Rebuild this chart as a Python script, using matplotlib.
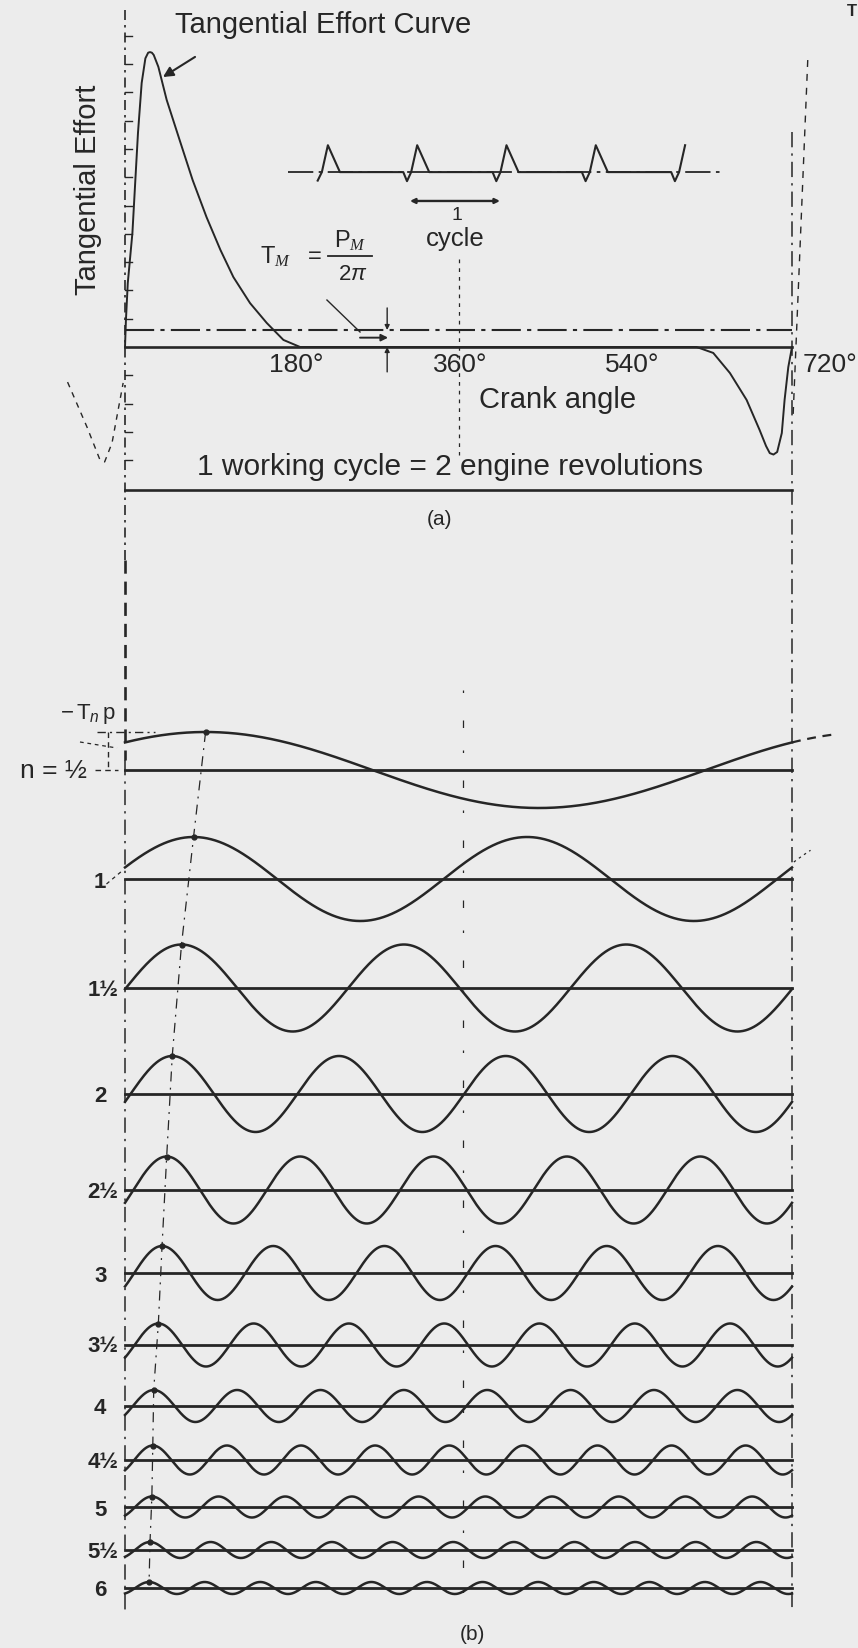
import numpy as np
import matplotlib.pyplot as plt

plt.rcParams['font.family'] = ['Liberation Sans', 'DejaVu Sans']
plt.rcParams['mathtext.fontset'] = 'custom'
plt.rcParams['mathtext.rm'] = 'Liberation Sans'
plt.rcParams['mathtext.it'] = 'Liberation Sans:italic'
plt.rcParams['mathtext.cal'] = 'Liberation Serif:italic'

# --- data -----------------------------------------------------------------
# tangential effort over one working cycle (crank angle in deg, relative effort)
crank = [0, 1, 3, 8, 11, 14, 18, 22, 25, 27, 29, 31, 36, 45, 59, 73, 88, 103, 117,
         135, 153, 171, 189, 617, 635, 653, 671, 685, 692, 696, 700, 704, 709, 712, 716, 720]
effort = [0, 9.5, 22.6, 40.3, 58, 75.6, 93.3, 102, 104, 104.2, 104, 103.2, 99, 87.3, 73.1,
          59, 45.9, 34.3, 24.7, 15.5, 8.5, 2.5, 0, 0, -2.1, -9.2, -18.7, -29.3, -35,
          -37.5, -38, -37.1, -30.4, -18.7, -7.1, 0]

# end of the previous cycle (drawn dashed, left of 0 deg)
crank_prev = [-62, -41, -27, -22, -14, -8, -2]
effort_prev = [-12.4, -28.3, -39.9, -40.6, -33.9, -23.3, -12.7]

mean_effort = 6.0
effort_ticks = np.arange(-40, 111, 10)

# small sketch of successive cycles: one pulse (offset from its peak, height)
pulse_dx = [-15, -11, -6.5, 0, 13]
pulse_dy = [0, -3.2, 0, 9.5, 0]
pulse_peaks = [219, 315.4, 411.8, 508.2, 604.6]

# harmonic components (b)
orders = [0.5, 1, 1.5, 2, 2.5, 3, 3.5, 4, 4.5, 5, 5.5, 6]
labels = ['n = ½', '1', '1½', '2', '2½', '3', '3½', '4', '4½', '5', '5½', '6']
amplitude = [38, 42, 43.5, 38, 33.5, 27, 21.5, 16, 14.5, 10.5, 8, 6]
phase = [87, 74, 61, 51, 45, 40, 36, 31, 30, 29, 27, 26]   # crank angle of first peak

# --- layout ---------------------------------------------------------------
W, H = 858, 1648
x0_px, px_per_deg = 125, (792 - 125) / 720.0
xlim = (-x0_px / px_per_deg, (W - x0_px) / px_per_deg)
row_base = [770, 879, 988, 1094, 1190, 1273, 1345, 1406, 1460, 1507, 1550, 1588]

ink = '#262626'
bg = '#ececec'
dashdot = (0, (14, 3, 2, 3))

fig = plt.figure(figsize=(W / 100, H / 100), dpi=100, facecolor=bg)

# full-figure axes for part (b) and the guide lines (y in layout units, downwards)
ax = fig.add_axes([0, 0, 1, 1])
ax.set_xlim(*xlim)
ax.set_ylim(H, 0)
ax.axis('off')

# top axes for part (a), effort units
top_h = 560
ax_a = fig.add_axes([0, 1 - top_h / H, 1, top_h / H])
base_px, px_per_unit = 347, 2.83
ax_a.set_xlim(*xlim)
ax_a.set_ylim((base_px - top_h) / px_per_unit, base_px / px_per_unit)
ax_a.axis('off')
ax_a.patch.set_alpha(0)

# ---------------- part (a) ----------------
ax_a.plot(crank, effort, color=ink, lw=1.4)
ax_a.plot(crank_prev, effort_prev, color=ink, lw=1.0, ls=(0, (4, 4)))
ax_a.plot([0, 720], [0, 0], color=ink, lw=1.9)
ax_a.plot([0, 720], [mean_effort, mean_effort], color=ink, lw=1.5, ls=dashdot)
ax_a.plot([0, 720], [-50.5, -50.5], color=ink, lw=1.9)

# ticks on the effort axis
for t in effort_ticks:
    if t != 0:
        ax_a.plot([0, 8], [t, t], color=ink, lw=1.0)

# sketch of successive cycles
mini_y0 = 61.8
ax_a.plot([176, 644], [mini_y0, mini_y0], color=ink, lw=1.3, ls=dashdot)
sx, sy = [], []
for i, pk in enumerate(pulse_peaks):
    last = i == len(pulse_peaks) - 1
    n_pts = 4 if last else 5
    first = 1 if i == 0 else 0
    sx += [pk + d for d in pulse_dx[first:n_pts]]
    sy += [mini_y0 + d for d in pulse_dy[first:n_pts]]
sy[0] = mini_y0 - 3.0
ax_a.plot(sx, sy, color=ink, lw=1.5)
ax_a.annotate('', xy=(307.6, 51.6), xytext=(404.8, 51.6),
              arrowprops=dict(arrowstyle='<|-|>', color=ink, lw=1.7,
                              mutation_scale=7, shrinkA=0, shrinkB=0))
ax_a.text(358, 46.4, '1', ha='center', va='center', fontsize=14, color=ink)
ax_a.text(356, 38.0, 'cycle', ha='center', va='center', fontsize=18.5, color=ink)

# 360 deg guide in (a)
ax_a.plot([360, 360], [31, -38.2], color=ink, lw=0.9, ls=(0, (3, 4)))

# labels
ax_a.text(54, 113.8, 'Tangential Effort Curve', ha='left', va='center',
          fontsize=21, color=ink)
ax_a.annotate('', xy=(41, 95.4), xytext=(75.6, 102.5),
              arrowprops=dict(arrowstyle='-|>', color=ink, lw=1.5,
                              mutation_scale=15, shrinkA=0, shrinkB=0))
ax_a.text(-40, 55.5, 'Tangential Effort', rotation=90, ha='center', va='center',
          fontsize=21, color=ink)
for ang, txt in zip([184.6, 361.6, 548, 761], ['180°', '360°', '540°', '720°']):
    ax_a.text(ang, -6.5, txt, ha='center', va='center', fontsize=19, color=ink)
ax_a.text(467, -18.7, 'Crank angle', ha='center', va='center', fontsize=21, color=ink)
ax_a.text(351, -42.4, '1 working cycle = 2 engine revolutions', ha='center',
          va='center', fontsize=21.5, color=ink)
ax_a.text(340, -61.1, '(a)', ha='center', va='center', fontsize=15, color=ink)

# mean torque T_M = P_M / 2 pi
ax_a.text(145.7, 31.8, r'$\mathrm{T}_{\mathcal{M}}$', ha='left', va='center',
          fontsize=17, color=ink)
ax_a.text(205, 31.8, '=', ha='center', va='center', fontsize=17, color=ink)
ax_a.plot([219, 266.6], [32.3, 32.3], color=ink, lw=1.3)
ax_a.text(243, 37.6, r'$\mathrm{P}_{\mathcal{M}}$', ha='center', va='center',
          fontsize=17, color=ink)
ax_a.text(246, 25.6, r'$2\pi$', ha='center', va='center', fontsize=16, color=ink)

# leader and dimension arrows
ax_a.plot([218, 253.7], [16.6, 5.3], color=ink, lw=1.0)
ax_a.annotate('', xy=(284, 3.3), xytext=(253.7, 3.3),
              arrowprops=dict(arrowstyle='-|>', color=ink, lw=1.4,
                              mutation_scale=10, shrinkA=0, shrinkB=0))
ax_a.annotate('', xy=(283, mean_effort), xytext=(283, 13.8),
              arrowprops=dict(arrowstyle='-|>', color=ink, lw=1.0,
                              mutation_scale=7, shrinkA=0, shrinkB=0))
ax_a.annotate('', xy=(283, 0), xytext=(283, -8.8),
              arrowprops=dict(arrowstyle='-|>', color=ink, lw=1.0,
                              mutation_scale=7, shrinkA=0, shrinkB=0))

# slanted dashed guide at the right
ax_a.plot([737, 721], [101.4, -25.8], color=ink, lw=1.0, ls=(0, (5, 5)))

# ---------------- guide lines over the whole figure ----------------
ax.plot([0, 0], [10, 560], color=ink, lw=1.2, ls=(0, (6, 3, 1.5, 3)))
ax.plot([0, 0], [560, 760], color=ink, lw=1.9, ls=(0, (5, 3)))
ax.plot([0, 0], [760, 1612], color=ink, lw=1.1, ls=(0, (10, 4, 1.5, 4)))
ax.plot([720, 720], [132, 1612], color=ink, lw=1.1, ls=(0, (10, 4, 1.5, 4)))
ax.plot([365, 365], [690, 1612], color=ink, lw=0.9, ls=(0, (2, 22, 6, 18)))
ax.text(0.999, 0.993, 'T', ha='right', va='center', fontsize=12, color=ink,
        fontweight='bold', transform=fig.transFigure)

# ---------------- part (b) ----------------
theta = np.linspace(0, 720, 1441)
peak_x, peak_y = [], []
for n, a, ph, yb, lab in zip(orders, amplitude, phase, row_base, labels):
    y = yb - a * np.cos(np.radians(n * (theta - ph)))
    ax.plot(theta, y, color=ink, lw=1.8)
    ax.plot([0, 720], [yb, yb], color=ink, lw=2.0)
    ax.plot([ph], [yb - a], 'o', ms=3.5, color=ink)
    peak_x.append(ph)
    peak_y.append(yb - a)
    if lab.startswith('n'):
        ax.text(-40.5, yb + 1, lab, ha='right', va='center', fontsize=19, color=ink)
    elif '½' in lab:
        ax.text(-7.5, yb + 2, lab, ha='right', va='center', fontsize=16,
                fontweight='bold', color=ink)
    else:
        ax.text(-20, yb + 3, lab, ha='right', va='center', fontsize=16,
                fontweight='bold', color=ink)

# dash-dot line through the first peaks
ax.plot(peak_x, peak_y, color=ink, lw=0.9, ls=(0, (8, 5, 1.5, 5)))

# continuation of the n = 1/2 and n = 1 curves past 720 deg
ext = np.linspace(720, 765, 30)
ax.plot(ext, row_base[0] - amplitude[0] * np.cos(np.radians(orders[0] * (ext - phase[0]))),
        color=ink, lw=1.6, ls=(0, (4, 3)))
ext1 = np.linspace(722, 740, 10)
ax.plot(ext1, row_base[1] - amplitude[1] * np.cos(np.radians(orders[1] * (ext1 - phase[1]))) - 4,
        color=ink, lw=0.9, ls=(0, (2, 3)))

# -T_n p dimension at the left of the n = 1/2 row
ax.text(-40, 714, r'$-\,\mathrm{T}_n\,\mathrm{p}$', ha='center', va='center',
        fontsize=16, color=ink)
ax.plot([-30, 32], [732, 732], color=ink, lw=1.0, ls=(0, (6, 3, 1.5, 3)))
ax.plot([-18, -18], [732, 770], color=ink, lw=1.0, ls=(0, (4, 3)))
ax.plot([-32, -8], [770, 770], color=ink, lw=1.0, ls=(0, (4, 3)))
ax.plot([-48.6, -8.6], [742, 748], color=ink, lw=0.9, ls=(0, (3, 3)))
ax.plot([-20, -2], [884, 870], color=ink, lw=0.9, ls=(0, (3, 3)))

ax.text(374.6, 1635, '(b)', ha='center', va='center', fontsize=15, color=ink)

fig.savefig('out.png', dpi=100, facecolor=bg)
